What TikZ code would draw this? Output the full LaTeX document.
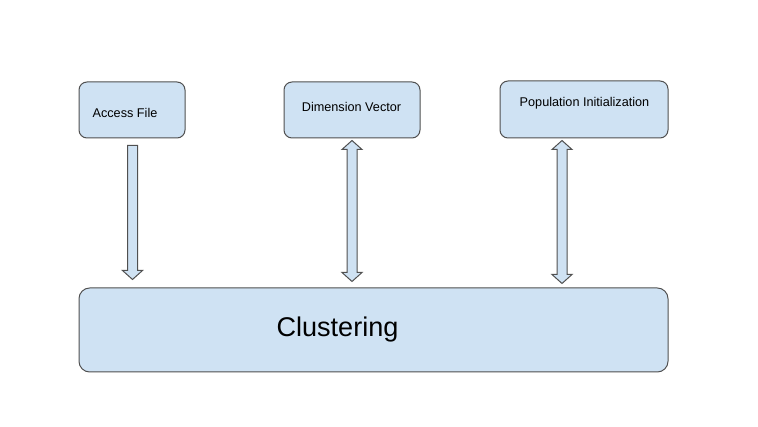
\documentclass[tikz,border=0pt]{standalone}
\usepackage{fontspec}
\setmainfont{Liberation Sans}
\usetikzlibrary{calc}

\tikzset{every picture/.style={line width=0.75pt}}
\tikzset{
	blockbox/.style={draw={rgb, 255:red, 80; green, 80; blue, 80 }, fill={rgb, 255:red, 207; green, 226; blue, 243 }, rounded corners=6pt, inner sep=0pt},
	bigbox/.style={blockbox, rounded corners=8pt},
	smalltext/.style={font=\fontsize{9.5pt}{11pt}\selectfont, anchor=base, inner sep=0pt},
	bigtext/.style={font=\fontsize{20.3pt}{24pt}\selectfont, anchor=base, inner sep=0pt},
	fatarrow/.style={draw={rgb, 255:red, 80; green, 80; blue, 80 }, fill={rgb, 255:red, 207; green, 226; blue, 243 }},
	fatdown/.style={to path={($(\tikztostart)+(-5,0)$) -- ($(\tikztostart)+(5,0)$) -- ($(\tikztotarget)+(5,-9)$) -- ($(\tikztotarget)+(10,-9)$) -- (\tikztotarget) -- ($(\tikztotarget)+(-10,-9)$) -- ($(\tikztotarget)+(-5,-9)$) -- cycle}},
	fatboth/.style={to path={(\tikztostart) -- ($(\tikztostart)+(10,9)$) -- ($(\tikztostart)+(5,9)$) -- ($(\tikztotarget)+(5,-9)$) -- ($(\tikztotarget)+(10,-9)$) -- (\tikztotarget) -- ($(\tikztotarget)+(-10,-9)$) -- ($(\tikztotarget)+(-5,-9)$) -- ($(\tikztostart)+(-5,9)$) -- ($(\tikztostart)+(-10,9)$) -- cycle}}
}

\begin{document}
\begin{tikzpicture}[x=0.75pt,y=0.75pt,yscale=-1,xscale=1]
	\useasboundingbox (0,0) rectangle (758,427);

	%Shape: Rounded Rect [id:access]
	\node[blockbox, minimum width=79.5pt, minimum height=42pt] (access) at (132,110) {};
	%Shape: Rounded Rect [id:dimvec]
	\node[blockbox, minimum width=102pt, minimum height=42pt] (dimvec) at (352,110) {};
	%Shape: Rounded Rect [id:popinit]
	\node[blockbox, minimum width=126pt, minimum height=42.75pt] (popinit) at (584,109.5) {};
	%Shape: Rounded Rect [id:cluster]
	\node[bigbox, minimum width=441.75pt, minimum height=63pt] (cluster) at (373.5,330) {};

	%Block Arrows
	\coordinate (acctop) at ($(access.south)+(0.5,7)$);
	\coordinate (acctip) at ($(acctop |- cluster.north)+(0,-8)$);
	\coordinate (dimtop) at ($(dimvec.south)+(0,2)$);
	\coordinate (dimtip) at ($(dimtop |- cluster.north)+(0,-6)$);
	\coordinate (poptop) at ($(popinit.south)+(-22,2)$);
	\coordinate (poptip) at ($(poptop |- cluster.north)+(0,-4)$);
	\draw[fatarrow] (acctop) to[fatdown] (acctip);
	\draw[fatarrow] (dimtop) to[fatboth] (dimtip);
	\draw[fatarrow] (poptop) to[fatboth] (poptip);

	% Text Node
	\node[smalltext] (accesslbl) at (125,118) {Access File};
	% Text Node
	\node[smalltext] (dimveclbl) at (351.5,112) {Dimension Vector};
	% Text Node
	\node[smalltext] (popinitlbl) at (584.5,107) {Population Initialization};
	% Text Node
	\node[bigtext] (clusterlbl) at (337.5,337) {Clustering};

\end{tikzpicture}
\end{document}
